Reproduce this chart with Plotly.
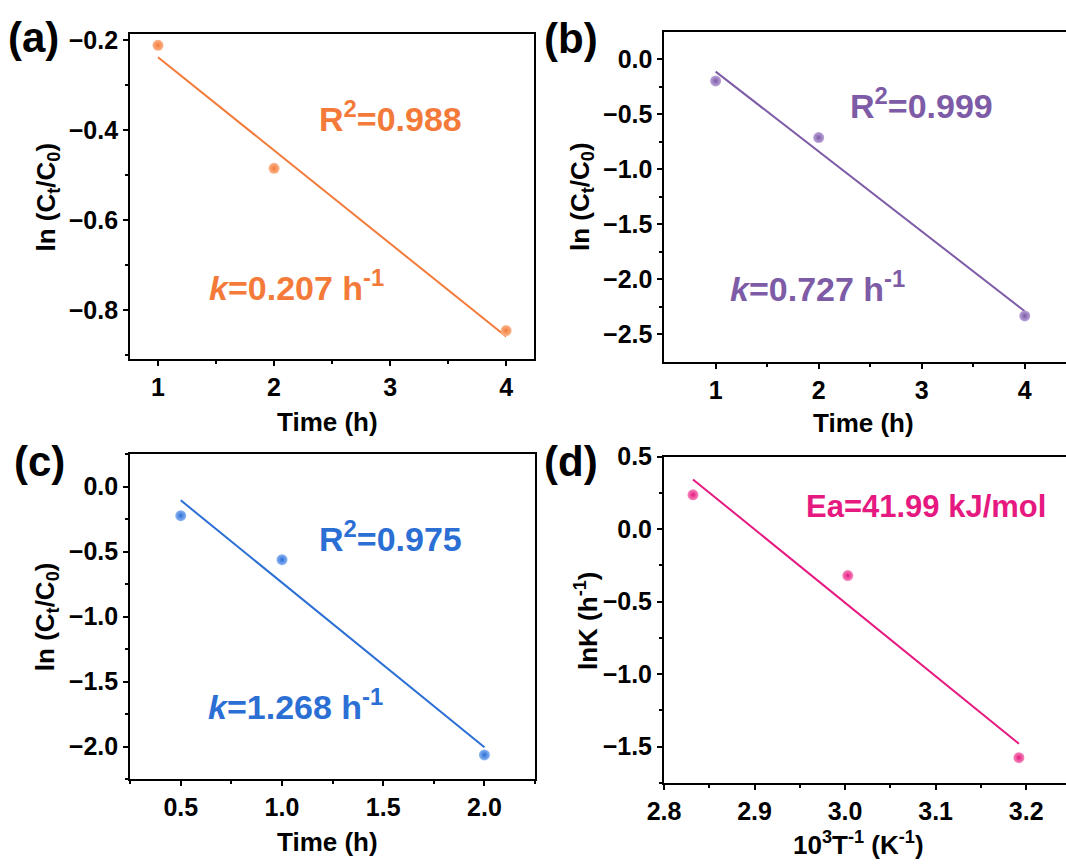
import numpy as np
import plotly.graph_objects as go

# ---------------- data ----------------
time_a = [1, 2, 4]
lnC_a = [-0.212, -0.485, -0.845]

time_b = [1, 2, 4]
lnC_b = [-0.197, -0.712, -2.333]

time_c = [0.5, 1.0, 2.0]
lnC_c = [-0.223, -0.562, -2.064]

invT_d = [2.832, 3.003, 3.192]
lnK_d = [0.237, -0.320, -1.576]

col_a = "#F47A3A"
col_b = "#7D5BA6"
col_c = "#2B6FD5"
col_d = "#E5197F"
light = {col_a: "#FBB58C", col_b: "#BBA5DA", col_c: "#8FB6F5", col_d: "#F58BC0"}

FONT = "Liberation Sans, Arial, sans-serif"

fig = go.Figure()

panels = [
    (time_a, lnC_a, col_a, ""),
    (time_b, lnC_b, col_b, "2"),
    (time_c, lnC_c, col_c, "3"),
    (invT_d, lnK_d, col_d, "4"),
]

for x, y, c, s in panels:
    slope, icpt = np.polyfit(x, y, 1)
    xf = np.array([min(x), max(x)])
    fig.add_trace(go.Scatter(x=xf, y=slope * xf + icpt, mode="lines",
                             line=dict(color=c, width=2),
                             xaxis="x" + s, yaxis="y" + s, showlegend=False))
    fig.add_trace(go.Scatter(x=x, y=y, mode="markers",
                             marker=dict(size=11, color=light[c],
                                         gradient=dict(type="radial", color=c),
                                         line=dict(width=0)),
                             xaxis="x" + s, yaxis="y" + s, showlegend=False))

tickfont = dict(family=FONT, size=25, color="black", weight="bold")
titlefont = dict(family=FONT, size=26, color="black", weight="bold")


def axis(domain, rng, dtick, mdtick, anchor, mirror=True, fmt=".1f"):
    return dict(domain=domain, range=rng, dtick=dtick, tick0=0, anchor=anchor,
                showgrid=False, zeroline=False, showline=True, linecolor="black",
                linewidth=2, mirror=mirror, ticks="outside", ticklen=5, tickwidth=2,
                tickcolor="black", tickfont=tickfont, automargin=False,
                tickformat=fmt,
                minor=dict(ticks="outside", ticklen=3, tickwidth=2, dtick=mdtick,
                           tickcolor="black", tick0=0))


layout = dict(
    width=1066, height=864, margin=dict(l=0, r=0, t=0, b=0),
    paper_bgcolor="white", plot_bgcolor="white",
    xaxis=axis([0.1220, 0.5009], [0.759, 4.24], 1, 0.5, "y", fmt="d"),
    yaxis=axis([0.5845, 0.9606], [-0.908, -0.187], 0.2, 0.1, "x"),
    xaxis2=axis([0.6233, 1.0], [0.503, 4.40], 1, 0.5, "y2", fmt="d"),
    yaxis2=axis([0.5814, 0.9626], [-2.749, 0.245], 0.5, 0.25, "x2", mirror=False),
    xaxis3=axis([0.1221, 0.5019], [0.25, 2.25], 0.5, 0.25, "y3"),
    yaxis3=axis([0.0980, 0.4745], [-2.252, 0.251], 0.5, 0.25, "x3"),
    xaxis4=axis([0.6229, 1.0], [2.8, 3.244], 0.1, 0.05, "y4"),
    yaxis4=axis([0.0934, 0.4714], [-1.753, 0.5], 0.5, 0.25, "x4", mirror=False),
)
fig.update_layout(**layout)

annfont = lambda c, sz=34: dict(family=FONT, size=sz, color=c, weight="bold")
anns = [
    dict(x=3.0, y=-0.370, xref="x", yref="y", text="R<sup>2</sup>=0.988", font=annfont(col_a)),
    dict(x=2.19, y=-0.746, xref="x", yref="y", text="<i>k</i>=0.207 h<sup>-1</sup>", font=annfont(col_a)),
    dict(x=3.0, y=-0.40, xref="x2", yref="y2", text="R<sup>2</sup>=0.999", font=annfont(col_b)),
    dict(x=1.99, y=-2.067, xref="x2", yref="y2", text="<i>k</i>=0.727 h<sup>-1</sup>", font=annfont(col_b)),
    dict(x=1.538, y=-0.385, xref="x3", yref="y3", text="R<sup>2</sup>=0.975", font=annfont(col_c)),
    dict(x=1.067, y=-1.679, xref="x3", yref="y3", text="<i>k</i>=1.268 h<sup>-1</sup>", font=annfont(col_c)),
    dict(x=3.089, y=0.157, xref="x4", yref="y4", text="Ea=41.99 kJ/mol", font=annfont(col_d, 31)),
]

# axis titles
YT = "ln (C<sub>t</sub>/C<sub>0</sub>)"
XT = "Time (h)"
for txt, px, py, ang in [
    (XT, 0.3068, 0.5116, 0), (XT, 0.8105, 0.5104, 0),
    (XT, 0.3068, 0.0258, 0),
    ("10<sup>3</sup>T<sup>-1</sup> (K<sup>-1</sup>)", 0.8058, 0.0243, 0),
    (YT, 0.0441, 0.7714, -90), (YT, 0.5450, 0.7731, -90),
    (YT, 0.0436, 0.2862, -90), ("lnK (h<sup>-1</sup>)", 0.5497, 0.2824, -90),
]:
    anns.append(dict(x=px, y=py, xref="paper", yref="paper", text=txt,
                     font=titlefont, textangle=ang))

labfont = dict(family=FONT, size=42, color="black", weight="bold")
for txt, px, py in [("(a)", 0.031, 0.957), ("(b)", 0.5356, 0.956),
                    ("(c)", 0.0375, 0.4656), ("(d)", 0.5356, 0.4656)]:
    anns.append(dict(x=px, y=py, xref="paper", yref="paper", text=txt, font=labfont))
for a in anns:
    a.update(showarrow=False, xanchor="center", yanchor="middle")
fig.update_layout(annotations=anns)

fig.write_html("out.html")
